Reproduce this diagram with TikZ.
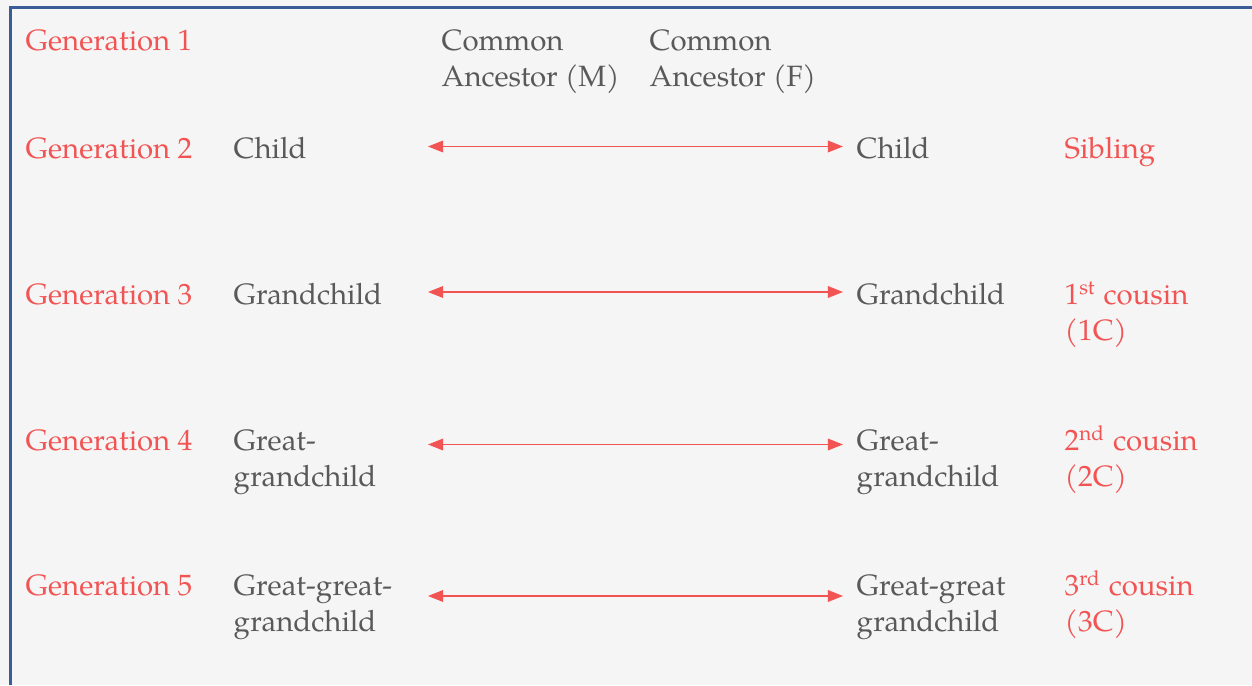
\documentclass[tikz,border=0pt]{standalone}
\usepackage{fontspec}
\setmainfont{TeX Gyre Pagella}
\usetikzlibrary{arrows.meta}

\definecolor{kinred}{HTML}{F25454}
\definecolor{textgrey}{HTML}{595959}
\definecolor{framblue}{HTML}{3A5D98}
\definecolor{paper}{HTML}{F5F5F5}

\begin{document}
\begin{tikzpicture}[x=0.01cm,y=-0.01cm,
    every node/.style={inner sep=0pt,anchor=base west,align=left,
        font=\fontsize{8.35pt}{10.24pt}\selectfont},
    gen/.style={text=kinred},
    person/.style={text=textgrey},
    kin/.style={text=kinred},
    link/.style={{Triangle[length=4.3pt,width=3.3pt]}-{Triangle[length=4.3pt,width=3.3pt]},
        draw=kinred,fill=kinred,line width=0.45pt}]

    % page and frame
    \fill[paper] (0,0) rectangle (1252,685);
    \useasboundingbox (0,0) rectangle (1252,685);
    \draw[framblue,line width=0.85pt] (10.5,685) -- (10.5,7.5) -- (1252,7.5);

    % generations
    \node[gen] (gen1) at (25,50.5) {Generation 1};
    \node[gen] (gen2) at (25,158.5) {Generation 2};
    \node[gen] (gen3) at (25,304.5) {Generation 3};
    \node[gen] (gen4) at (25,450.5) {Generation 4};
    \node[gen] (gen5) at (25,595.5) {Generation 5};

    % common ancestors (two lines: placed at the last baseline)
    \node[person] (ancm) at (441,86.5) {Common\\Ancestor (M)};
    \node[person] (ancf) at (649,86.5) {Common\\Ancestor (F)};

    % left line of descent
    \node[person] (left2) at (233,158.5) {Child};
    \node[person] (left3) at (233,304.5) {Grandchild};
    \node[person] (left4) at (233,486.5) {Great-\\grandchild};
    \node[person] (left5) at (233,631.5) {Great-great-\\grandchild};

    % right line of descent
    \node[person] (right2) at (856,158.5) {Child};
    \node[person] (right3) at (856,304.5) {Grandchild};
    \node[person] (right4) at (856,486.5) {Great-\\grandchild};
    \node[person] (right5) at (856,631.5) {Great-great\\grandchild};

    % relationship
    \node[kin] (kin2) at (1064,158.5) {Sibling};
    \node[kin] (kin3) at (1064,340.5) {1\textsuperscript{st} cousin\\(1C)};
    \node[kin] (kin4) at (1064,486.5) {2\textsuperscript{nd} cousin\\(2C)};
    \node[kin] (kin5) at (1064,631.5) {3\textsuperscript{rd} cousin\\(3C)};

    % arrows
    \coordinate (a2) at (428,146.5);  \coordinate (b2) at (843,146.5);
    \coordinate (a3) at (428,292);    \coordinate (b3) at (843,292);
    \coordinate (a4) at (428,444.5);  \coordinate (b4) at (843,444.5);
    \coordinate (a5) at (428,596);    \coordinate (b5) at (843,596);
    \draw[link] (a2) -- (b2);
    \draw[link] (a3) -- (b3);
    \draw[link] (a4) -- (b4);
    \draw[link] (a5) -- (b5);

\end{tikzpicture}
\end{document}
